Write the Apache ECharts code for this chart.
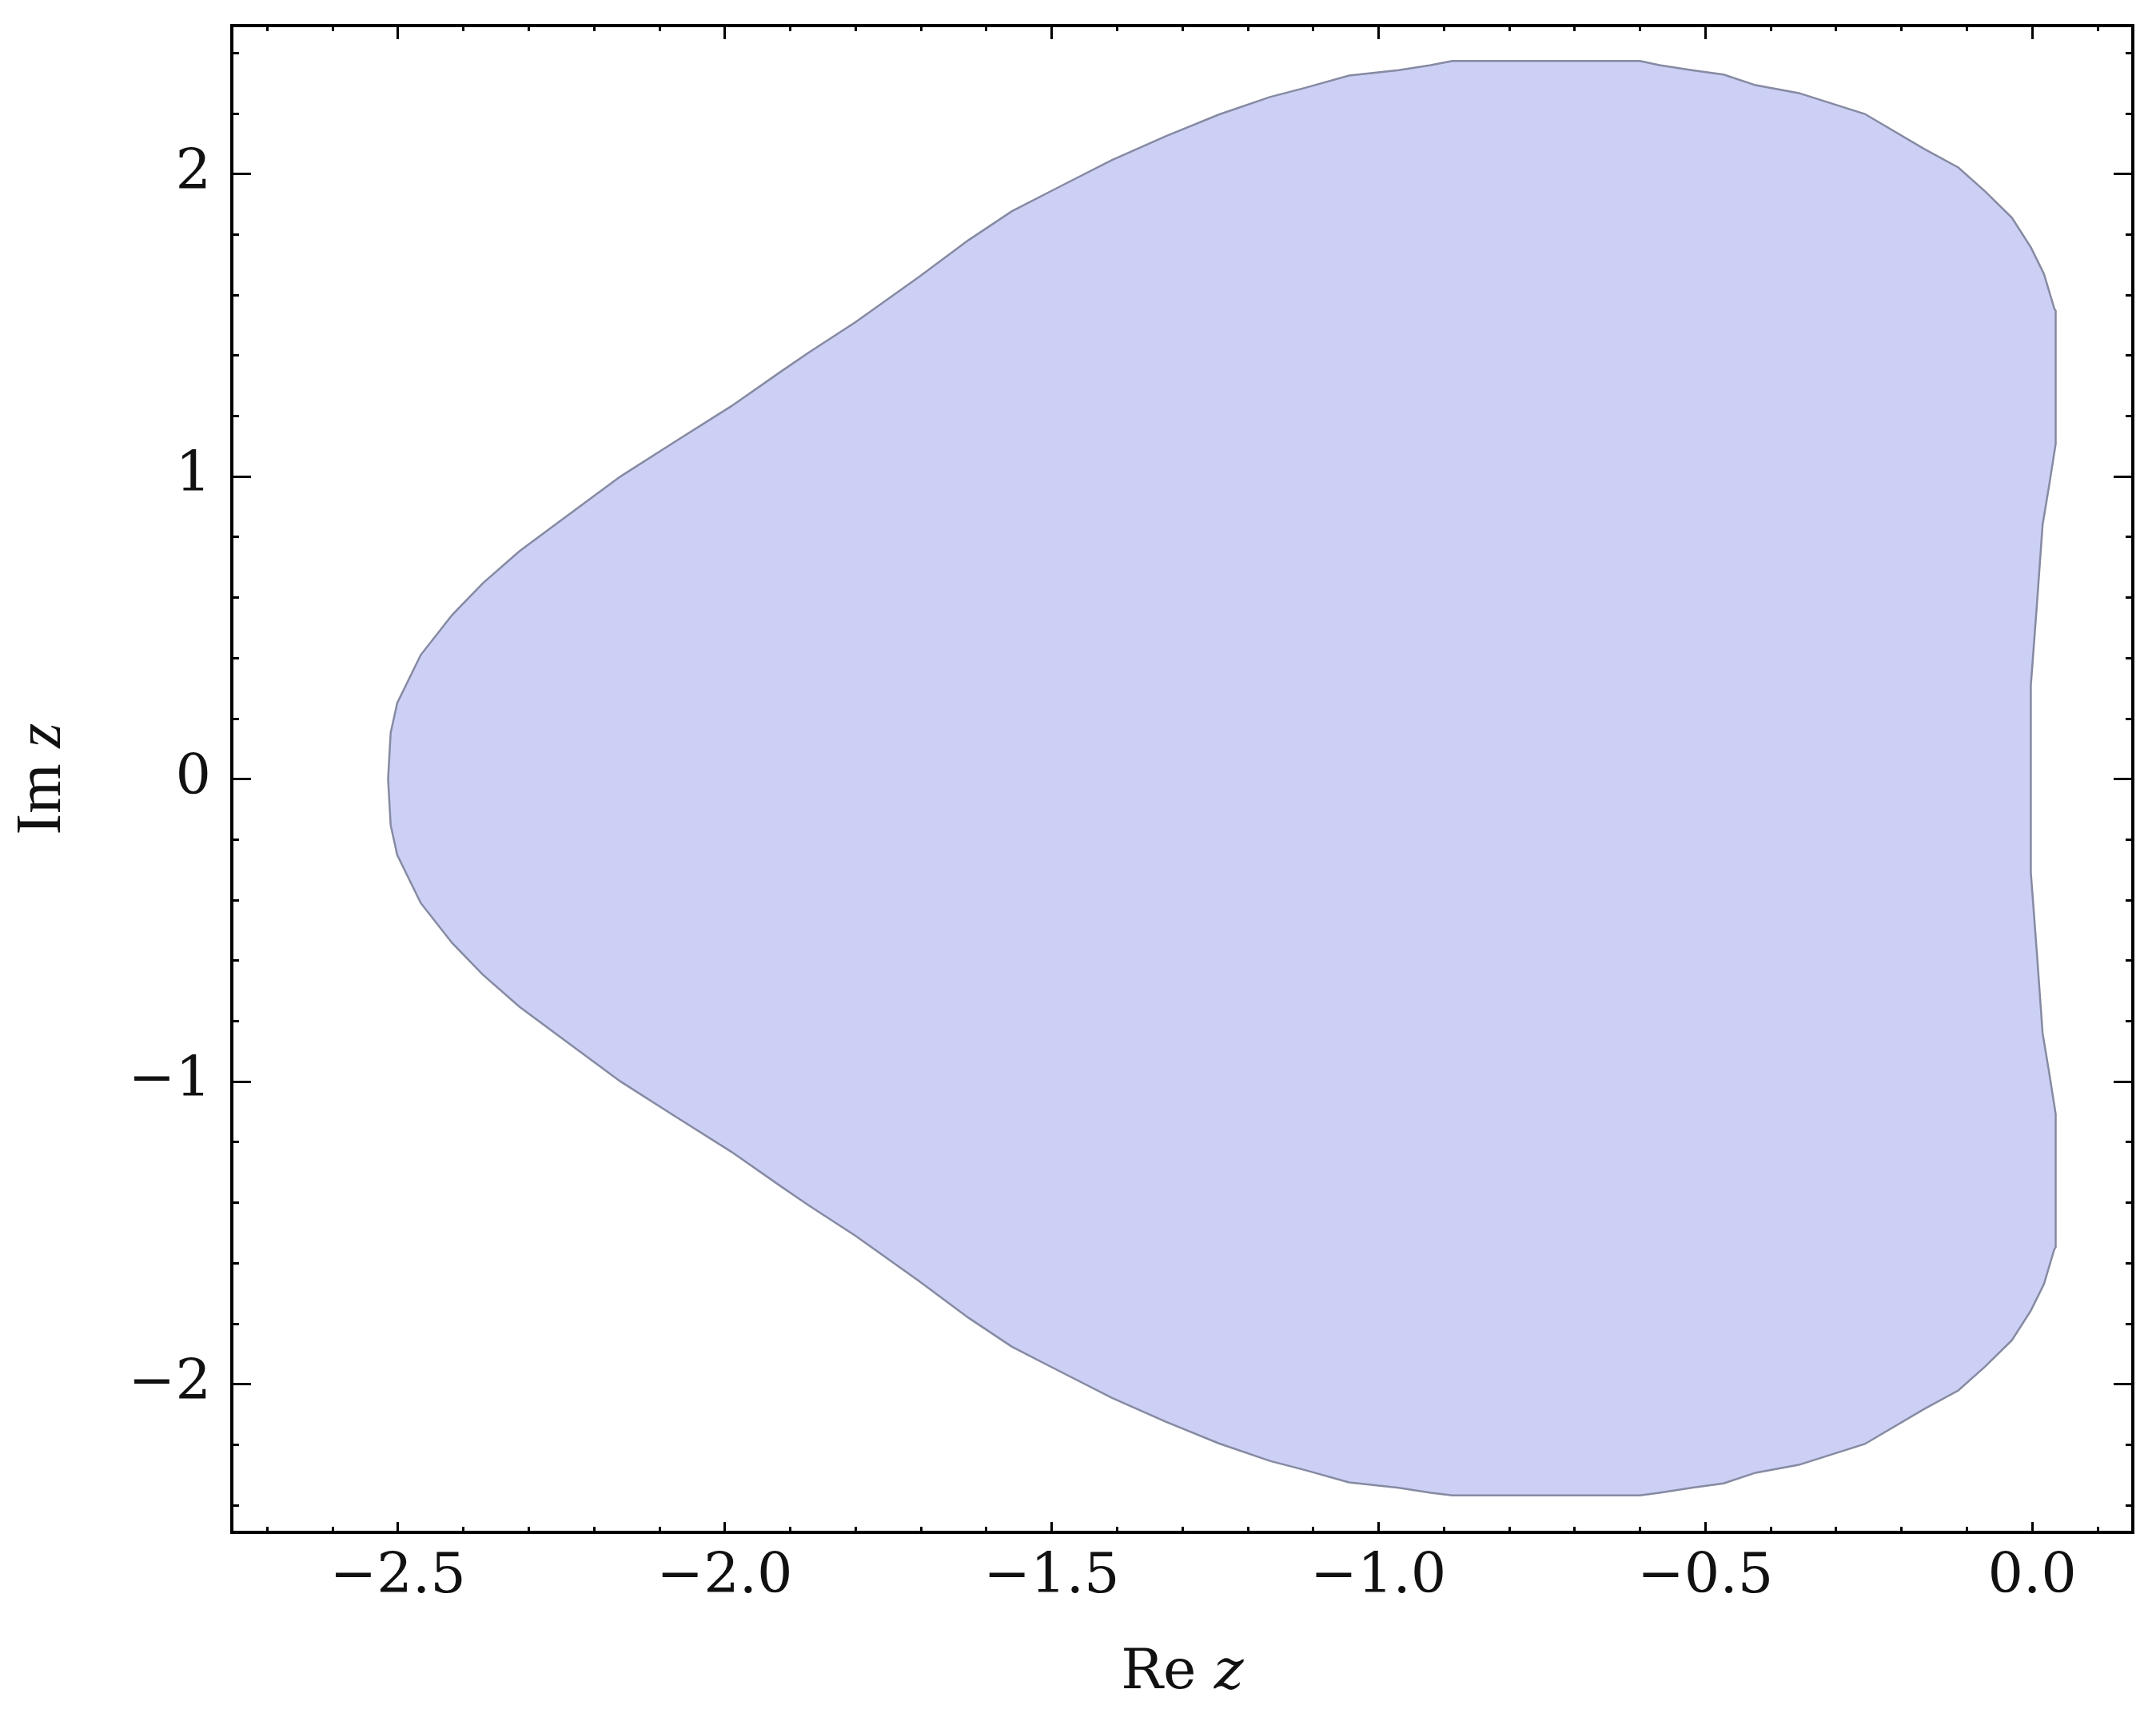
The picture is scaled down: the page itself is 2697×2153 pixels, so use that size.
<!DOCTYPE html>
<html>
<head>
<meta charset="utf-8">
<script src="https://cdn.jsdelivr.net/npm/echarts@6/dist/echarts.min.js"></script>
<style>
html,body{margin:0;padding:0;background:#fff;}
#chart{width:2697px;height:2153px;}
</style>
</head>
<body>
<div id="chart"></div>
<script>
// Boundary of the region, upper half (Re z, Im z), nose -> top -> origin
const upperRe = [-2.515, -2.511, -2.501, -2.465, -2.417, -2.370, -2.314, -2.253, -2.160, -2.076,
  -1.990, -1.915, -1.871, -1.800, -1.703, -1.627, -1.561, -1.490, -1.408,
  -1.326, -1.244, -1.166, -1.111, -1.045, -0.969, -0.920, -0.887, -0.600, -0.570,
  -0.521, -0.472, -0.423, -0.357, -0.256, -0.165, -0.113, -0.072, -0.031, -0.002,
  0.018, 0.034, 0.036, 0.036, 0.026, 0.016, 0.007, -0.002, -0.002];
const upperIm = [0.000, 0.153, 0.251, 0.410, 0.542, 0.647, 0.753, 0.851, 0.999, 1.115,
  1.232, 1.345, 1.410, 1.510, 1.659, 1.781, 1.876, 1.955, 2.045,
  2.124, 2.196, 2.254, 2.285, 2.325, 2.343, 2.359, 2.373, 2.373, 2.359,
  2.343, 2.328, 2.293, 2.267, 2.198, 2.082, 2.021, 1.942, 1.855, 1.757,
  1.670, 1.554, 1.548, 1.107, 0.970, 0.840, 0.568, 0.309, 0.000];
// Lower half, origin -> bottom -> nose
const lowerRe = [-0.002, 0.007, 0.016, 0.026, 0.036, 0.036, 0.034, 0.018, -0.002, -0.031,
  -0.072, -0.113, -0.165, -0.256, -0.357, -0.423, -0.472, -0.521, -0.570, -0.600,
  -0.887, -0.920, -0.969, -1.045, -1.111, -1.166, -1.244, -1.326, -1.408, -1.490,
  -1.561, -1.627, -1.703, -1.800, -1.871, -1.915, -1.990, -2.076, -2.160,
  -2.253, -2.314, -2.370, -2.417, -2.465, -2.501, -2.511];
const lowerIm = [-0.309, -0.568, -0.840, -0.970, -1.107, -1.548, -1.554, -1.670, -1.757, -1.855,
  -1.942, -2.021, -2.082, -2.198, -2.267, -2.293, -2.328, -2.343, -2.359, -2.368,
  -2.368, -2.359, -2.343, -2.325, -2.285, -2.254, -2.196, -2.124, -2.045, -1.955,
  -1.876, -1.781, -1.659, -1.510, -1.410, -1.345, -1.232, -1.115, -0.999,
  -0.851, -0.753, -0.647, -0.542, -0.410, -0.251, -0.153];

// Tick values and labels
const xMajorTicks = [-2.5, -2.0, -1.5, -1.0, -0.5, 0.0];
const xTickLabels = ['\u22122.5', '\u22122.0', '\u22121.5', '\u22121.0', '\u22120.5', '0.0'];
const xMinorTicks = [-2.7, -2.6, -2.4, -2.3, -2.2, -2.1, -1.9, -1.8, -1.7, -1.6, -1.4, -1.3, -1.2, -1.1,
  -0.9, -0.8, -0.7, -0.6, -0.4, -0.3, -0.2, -0.1, 0.1];
const yMajorTicks = [-2, -1, 0, 1, 2];
const yTickLabels = ['\u22122', '\u22121', '0', '1', '2'];
const yMinorTicks = [-2.4, -2.2, -1.8, -1.6, -1.4, -1.2, -0.8, -0.6, -0.4, -0.2,
  0.2, 0.4, 0.6, 0.8, 1.2, 1.4, 1.6, 1.8, 2.2, 2.4];

const X_MIN = -2.754, X_MAX = 0.154, Y_MIN = -2.49, Y_MAX = 2.49;
const FONT = 'DejaVu Serif';

const polyRe = upperRe.concat(lowerRe);
const polyIm = upperIm.concat(lowerIm);

function fmt(values, labels) {
  return function (v) {
    for (let i = 0; i < values.length; i++) {
      if (Math.abs(values[i] - v) < 1e-6) return labels[i];
    }
    return '';
  };
}

function axis(kind, pos, ticks, len, withLabels) {
  const a = {
    type: 'value',
    position: pos,
    min: kind === 'x' ? X_MIN : Y_MIN,
    max: kind === 'x' ? X_MAX : Y_MAX,
    axisLine: { show: false, onZero: false },
    splitLine: { show: false },
    axisTick: {
      show: true, inside: true, length: len, customValues: ticks,
      lineStyle: { color: '#000', width: 3 }
    },
    axisLabel: { show: false }
  };
  if (withLabels) {
    const isX = kind === 'x';
    a.axisLabel = {
      show: true,
      customValues: isX ? xMajorTicks : yMajorTicks,
      formatter: isX ? fmt(xMajorTicks, xTickLabels) : fmt(yMajorTicks, yTickLabels),
      fontFamily: FONT, fontSize: 70, color: '#111',
      margin: isX ? 22 : 26
    };
  }
  return a;
}

const xAxes = [
  axis('x', 'bottom', xMajorTicks, 13, true),
  axis('x', 'bottom', xMinorTicks, 7, false),
  axis('x', 'top', xMajorTicks, 17, false),
  axis('x', 'top', xMinorTicks, 7, false)
];
const yAxes = [
  axis('y', 'left', yMajorTicks, 24, true),
  axis('y', 'left', yMinorTicks, 9, false),
  axis('y', 'right', yMajorTicks, 24, false),
  axis('y', 'right', yMinorTicks, 9, false)
];
xAxes[0].name = '{n|Re }{i|z}';
xAxes[0].nameLocation = 'middle';
xAxes[0].nameGap = 142;
xAxes[0].nameTextStyle = {
  rich: {
    n: { fontFamily: FONT, fontSize: 70, color: '#111' },
    i: { fontFamily: FONT, fontSize: 70, fontStyle: 'italic', color: '#111' }
  }
};
yAxes[0].name = '{n|Im }{i|z}';
yAxes[0].nameLocation = 'middle';
yAxes[0].nameGap = 196;
yAxes[0].nameTextStyle = {
  rich: {
    n: { fontFamily: 'Liberation Serif', fontSize: 80, color: '#111' },
    i: { fontFamily: 'Liberation Serif', fontSize: 80, fontStyle: 'italic', color: '#111' }
  }
};

const chart = echarts.init(document.getElementById('chart'), null, { renderer: 'canvas' });
chart.setOption({
  animation: false,
  backgroundColor: '#ffffff',
  grid: {
    left: 290, right: 29, top: 32, bottom: 236,
    show: true, borderColor: '#000', borderWidth: 4, backgroundColor: 'transparent'
  },
  xAxis: xAxes,
  yAxis: yAxes,
  series: [{
    type: 'custom',
    xAxisIndex: 0,
    yAxisIndex: 0,
    clip: true,
    data: [[polyRe[0], polyIm[0]]],
    renderItem: function (params, api) {
      const pts = polyRe.map(function (x, i) { return api.coord([x, polyIm[i]]); });
      return {
        type: 'polygon',
        shape: { points: pts },
        style: { fill: '#cbd0f4', stroke: '#868aa2', lineWidth: 2.5 }
      };
    }
  }]
});
</script>
</body>
</html>
